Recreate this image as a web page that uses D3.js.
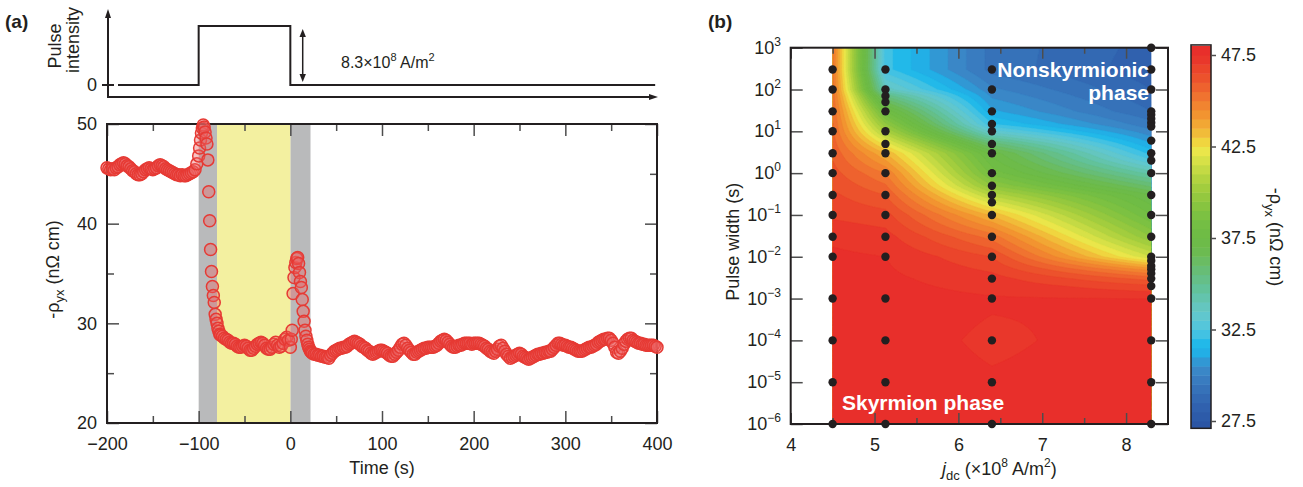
<!DOCTYPE html>
<html>
<head>
<meta charset="utf-8">
<script src="https://cdn.jsdelivr.net/npm/d3@7"></script>
<style>
  html, body { margin: 0; padding: 0; background: #fff; }
  svg { display: block; }
</style>
</head>
<body>
<svg id="fig" width="1303" height="487"></svg>
<script>
// ---------------- panel (a): pulse sequence and Hall resistivity ----------------
const timeTicks = [-200, -100, 0, 100, 200, 300, 400];
const timeMinorTicks = [-150, -50, 50, 150, 250, 350];
const rhoTicks = [20, 30, 40, 50];
const rhoMinorTicks = [25, 35, 45];

// current pulse (A/m^2, in units of 1e8)
const pulseTime  = [-188, -100, -100, 0, 0, 398];
const pulseLevel = [0, 0, 8.3, 8.3, 0, 0];
const pulseAmplitude = 8.3;
const arrowTime = 13.5;

// shaded time windows (s)
const grayWindows = [[-100, -80], [0, 22]];
const yellowWindow = [-80, 0];

// -rho_yx (nOhm cm) time trace, recorded in pieces
const rhoPre = [ // -200 .. -102 s, every 2 s
  45.6, 45.5, 45.4, 45.5, 45.4, 45.6, 45.7, 45.9, 46.0, 46.1,
  46.0, 45.8, 45.7, 45.5, 45.3, 45.2, 45.0, 44.9, 44.9, 45.0,
  45.2, 45.4, 45.5, 45.6, 45.5, 45.4, 45.5, 45.6, 45.8, 45.9,
  45.8, 45.7, 45.5, 45.4, 45.3, 45.2, 45.1, 45.0, 44.9, 44.9,
  44.8, 44.9, 44.8, 44.8, 44.9, 45.0, 45.1, 45.2, 45.4, 46.0];
const rhoStep1 = [ // -100 .. -77 s, every 1 s
  46.8, 47.6, 48.4, 49.1, 49.6, 49.9, 49.7, 49.2, 48.6, 48.0,
  46.4, 43.2, 40.3, 37.4, 35.2, 33.7, 32.8, 32.1, 30.9, 30.4,
  30.0, 29.5, 29.2, 28.9];
const rhoHeld = [ // -76 .. -2 s, every 2 s
  28.8, 28.7, 28.5, 28.4, 28.3, 28.1, 28.0, 28.0, 27.9, 27.7,
  27.6, 27.6, 27.7, 27.8, 27.7, 27.5, 27.3, 27.3, 27.5, 27.7,
  27.9, 28.0, 28.1, 28.0, 27.8, 27.5, 27.4, 27.4, 27.6, 27.9,
  28.1, 27.8, 27.6, 27.7, 28.0, 28.4, 28.6, 28.3];
const rhoStep2 = [ // 0 .. 23 s, every 1 s
  27.6, 28.4, 29.3, 33.0, 34.6, 35.6, 36.1, 36.5, 36.6, 36.0,
  35.1, 34.2, 33.6, 32.4, 31.2, 30.2, 29.3, 28.7, 28.3, 27.9,
  27.6, 27.4, 27.2, 27.1];
const rhoRelax = [ // 24 .. 400 s, every 2 s
  27.0, 26.9, 26.9, 26.8, 26.8, 26.7, 26.7, 26.6, 26.6, 26.5,
  26.8, 27.0, 27.2, 27.3, 27.4, 27.5, 27.5, 27.6, 27.6, 27.7,
  27.9, 28.0, 28.1, 28.2, 28.1, 28.0, 27.9, 27.7, 27.6, 27.5,
  27.3, 27.2, 27.0, 26.9, 27.0, 27.1, 27.2, 27.3, 27.3, 27.2,
  27.1, 27.0, 26.8, 26.7, 26.7, 26.9, 27.1, 27.3, 27.6, 27.9,
  28.0, 27.8, 27.5, 27.3, 27.1, 26.9, 26.9, 27.1, 27.2, 27.3,
  27.4, 27.5, 27.5, 27.6, 27.6, 27.6, 27.6, 27.7, 27.8, 28.0,
  28.2, 28.3, 28.4, 28.3, 28.1, 27.9, 27.7, 27.6, 27.6, 27.7,
  27.8, 27.8, 27.9, 28.0, 28.0, 28.0, 28.0, 27.9, 28.0, 28.0,
  28.0, 28.0, 27.9, 27.8, 27.7, 27.5, 27.4, 27.2, 27.1, 27.0,
  27.2, 27.4, 27.7, 27.8, 27.5, 27.2, 26.9, 26.7, 26.5, 26.6,
  26.7, 26.8, 26.9, 27.0, 26.9, 26.7, 26.6, 26.5, 26.4, 26.5,
  26.6, 26.7, 26.8, 26.9, 26.9, 27.0, 27.0, 27.1, 27.1, 27.2,
  27.2, 27.4, 27.6, 27.8, 28.0, 28.0, 27.9, 27.8, 27.8, 27.7,
  27.6, 27.6, 27.5, 27.4, 27.3, 27.2, 27.2, 27.2, 27.3, 27.4,
  27.5, 27.6, 27.6, 27.7, 27.8, 27.9, 28.1, 28.2, 28.3, 28.4,
  28.4, 28.5, 28.5, 28.3, 28.0, 27.6, 27.1, 27.0, 27.2, 27.5,
  27.9, 28.2, 28.4, 28.5, 28.5, 28.3, 28.2, 28.1, 28.0, 28.0,
  27.9, 27.9, 27.8, 27.8, 27.8, 27.8, 27.8, 27.7, 27.6];

// ---------------- panel (b): -rho_yx map vs current density and pulse width ----------------
const jdcTicks = [4, 5, 6, 7, 8];
const jdcMinorTicks = [4.5, 5.5, 6.5, 7.5];
const widthExponents = [3, 2, 1, 0, -1, -2, -3, -4, -5, -6];

const jdcColumns = [4.5, 5.13, 6.4, 8.3];
const widthsAt45 = [300, 100, 30, 10, 3, 1, 0.3, 0.1, 0.03, 0.01, 1e-3, 1e-4, 1e-5, 1e-6];
const rhoAt45    = [45.2, 45.3, 45.5, 45.6, 45.9, 46.2, 46.6, 46.9, 47.4, 47.6, 47.7, 47.6, 47.7, 47.8];
const widthsAt513 = [300, 100, 70, 50, 30, 10, 5, 3, 1, 0.3, 0.1, 0.03, 0.01, 1e-3, 1e-4, 1e-5, 1e-6];
const rhoAt513    = [32.2, 33.8, 35.4, 36.5, 38.0, 40.5, 42.3, 43.5, 45.0, 46.0, 46.7, 47.2, 47.5, 47.7, 47.7, 47.7, 47.8];
const widthsAt64 = [300, 100, 30, 15, 10, 5, 3, 1, 0.5, 0.3, 0.2, 0.1, 0.03, 0.01, 3e-3, 1e-3, 1e-4, 1e-5, 1e-6];
const rhoAt64    = [29.3, 30.1, 31.1, 32.0, 33.2, 35.8, 37.3, 38.3, 39.5, 40.8, 41.8, 43.4, 45.3, 46.5, 47.2, 47.55, 47.42, 47.55, 47.7];
const widthsAt83 = [1000, 300, 100, 30, 25, 20, 16, 13, 6, 3, 2, 1, 0.3, 0.1, 0.03, 0.01,
                    8e-3, 6e-3, 5e-3, 4e-3, 3e-3, 2e-3, 1e-3, 1e-4, 1e-5, 1e-6];
const rhoAt83    = [28.3, 28.2, 28.5, 29.0, 29.2, 29.4, 29.6, 29.8, 30.8, 31.8, 32.6, 34.3, 37.0, 38.0, 39.5, 41.5,
                    42.5, 43.6, 44.3, 45.0, 45.8, 46.6, 47.5, 47.7, 47.7, 47.8];

// colour scale
const cbarTicks = [27.5, 32.5, 37.5, 42.5, 47.5];
const cbarRange = [27.1, 48.05];
const contourStep = 0.5;
const cmapStops  = [27.0, 27.5, 28.5, 29.5, 30.5, 31.2, 31.7, 32.3, 33.0, 33.8, 34.7, 35.7, 36.7, 37.5,
                    38.5, 39.5, 40.5, 41.5, 42.3, 42.8, 43.5, 44.3, 45.2, 46.2, 47.0, 47.5, 48.1];
const cmapColors = ["#2a52a2", "#2c58a6", "#3164b0", "#3876bc", "#3a8cca", "#22aee6", "#1fb8ea", "#45c3e2",
                    "#5ec8d6", "#64c6be", "#62c29c", "#67bd78", "#6cbb52", "#6dbb45", "#76bf43", "#8dc63f",
                    "#a9cf3e", "#cdde46", "#ece74a", "#f0d33e", "#f2b036", "#f29230", "#f07530", "#ec532c",
                    "#ea3e2a", "#e8302b", "#e72e2a"];

// ---------------- drawing ----------------
const FONT = '"Liberation Sans", Arial, Helvetica, sans-serif';
const INK = '#231f20';
const TICK = '#4d4d4d';
const svg = d3.select('#fig').attr('font-family', FONT);

function styleAxis(g, size) {
  g.attr('font-family', FONT).attr('font-size', size);
  g.select('.domain').remove();
  g.selectAll('.tick line').attr('stroke', TICK).attr('stroke-width', 1.5);
  g.selectAll('.tick text').attr('fill', INK);
  return g;
}
const minusFmt = d => (d < 0 ? '\u2212' + Math.abs(d) : String(d));

// ===== panel (a) =====
const xT = d3.scaleLinear().domain([-200, 400]).range([107, 657]);
const yR = d3.scaleLinear().domain([20, 50]).range([423, 124]);
const yP = d3.scaleLinear().domain([0, pulseAmplitude]).range([85, 26]);

const gA = svg.append('g');

// pulse schematic axes with arrowheads
const axX0 = 108, axY0 = 97;
gA.append('line').attr('x1', axX0).attr('y1', axY0).attr('x2', axX0).attr('y2', 15)
  .attr('stroke', INK).attr('stroke-width', 2);
gA.append('path').attr('d', `M${axX0},9 L${axX0 - 3},18 L${axX0 + 3},18 Z`).attr('fill', INK);
gA.append('line').attr('x1', axX0 - 1).attr('y1', axY0).attr('x2', 651).attr('y2', axY0)
  .attr('stroke', INK).attr('stroke-width', 2);
gA.append('path').attr('d', `M658,${axY0} L649,${axY0 - 3} L649,${axY0 + 3} Z`).attr('fill', INK);
gA.append('line').attr('x1', axX0 - 6).attr('x2', axX0 + 6).attr('y1', yP(0)).attr('y2', yP(0))
  .attr('stroke', INK).attr('stroke-width', 2);
gA.append('text').attr('x', 97).attr('y', yP(0)).attr('dy', '0.35em').attr('text-anchor', 'end')
  .attr('font-size', 18).attr('fill', INK).text('0');

const pulseLine = d3.line().x((d, i) => xT(pulseTime[i])).y(d => yP(d));
gA.append('path').attr('d', pulseLine(pulseLevel)).attr('fill', 'none')
  .attr('stroke', INK).attr('stroke-width', 2);

// amplitude double arrow
const ax = xT(arrowTime), aTop = yP(pulseAmplitude) + 3, aBot = yP(0) - 3;
gA.append('line').attr('x1', ax).attr('x2', ax).attr('y1', aTop + 6).attr('y2', aBot - 6)
  .attr('stroke', INK).attr('stroke-width', 1.5);
gA.append('path').attr('d', `M${ax},${aTop} L${ax - 3.2},${aTop + 8} L${ax + 3.2},${aTop + 8} Z`).attr('fill', INK);
gA.append('path').attr('d', `M${ax},${aBot} L${ax - 3.2},${aBot - 8} L${ax + 3.2},${aBot - 8} Z`).attr('fill', INK);

const ampText = gA.append('text').attr('x', 341).attr('y', 68).attr('font-size', 16).attr('fill', INK);
ampText.append('tspan').text(pulseAmplitude + '\u00d710');
ampText.append('tspan').attr('dy', -7).attr('font-size', 11).text('8');
ampText.append('tspan').attr('dy', 7).text(' A/m');
ampText.append('tspan').attr('dy', -7).attr('font-size', 11).text('2');

gA.append('text').attr('transform', 'translate(55,46) rotate(-90)')
  .attr('text-anchor', 'middle').attr('dy', '0.35em').attr('font-size', 18).attr('fill', INK).text('Pulse');
gA.append('text').attr('transform', 'translate(73,40) rotate(-90)')
  .attr('text-anchor', 'middle').attr('dy', '0.35em').attr('font-size', 18).attr('fill', INK).text('intensity');

// shaded windows
gA.selectAll('rect.gray').data(grayWindows).join('rect').attr('class', 'gray')
  .attr('x', d => xT(d[0])).attr('width', d => xT(d[1]) - xT(d[0]))
  .attr('y', yR(50)).attr('height', yR(20) - yR(50)).attr('fill', '#b9babb');
gA.append('rect').attr('x', xT(yellowWindow[0])).attr('width', xT(yellowWindow[1]) - xT(yellowWindow[0]))
  .attr('y', yR(50)).attr('height', yR(20) - yR(50)).attr('fill', '#f3f0a0');

// axes with inward ticks
styleAxis(gA.append('g').attr('transform', `translate(0,${yR(20)})`)
  .call(d3.axisBottom(xT).tickValues(timeTicks).tickSize(-12).tickPadding(14).tickFormat(minusFmt)), 18);
styleAxis(gA.append('g').attr('transform', `translate(0,${yR(20)})`)
  .call(d3.axisBottom(xT).tickValues(timeMinorTicks).tickSize(-7).tickFormat('')), 18);
styleAxis(gA.append('g').attr('transform', `translate(0,${yR(50)})`)
  .call(d3.axisTop(xT).tickValues(timeTicks).tickSize(-12).tickFormat('')), 18);
styleAxis(gA.append('g').attr('transform', `translate(0,${yR(50)})`)
  .call(d3.axisTop(xT).tickValues(timeMinorTicks).tickSize(-7).tickFormat('')), 18);
styleAxis(gA.append('g').attr('transform', `translate(${xT(-200)},0)`)
  .call(d3.axisLeft(yR).tickValues(rhoTicks).tickSize(-12).tickPadding(10).tickFormat(d3.format('d'))), 18);
styleAxis(gA.append('g').attr('transform', `translate(${xT(-200)},0)`)
  .call(d3.axisLeft(yR).tickValues(rhoMinorTicks).tickSize(-7).tickFormat('')), 18);
styleAxis(gA.append('g').attr('transform', `translate(${xT(400)},0)`)
  .call(d3.axisRight(yR).tickValues(rhoTicks).tickSize(-12).tickFormat('')), 18);
styleAxis(gA.append('g').attr('transform', `translate(${xT(400)},0)`)
  .call(d3.axisRight(yR).tickValues(rhoMinorTicks).tickSize(-7).tickFormat('')), 18);

gA.append('rect').attr('x', xT(-200)).attr('y', yR(50)).attr('width', xT(400) - xT(-200))
  .attr('height', yR(20) - yR(50)).attr('fill', 'none').attr('stroke', INK).attr('stroke-width', 2);

// data points
function piece(start, step, vals) { return vals.map((v, i) => ({ t: start + i * step, v })); }
const trace = [].concat(
  piece(-200, 2, rhoPre), piece(-100, 1, rhoStep1), piece(-76, 2, rhoHeld),
  piece(0, 1, rhoStep2), piece(24, 2, rhoRelax));
gA.append('g').selectAll('circle').data(trace).join('circle')
  .attr('cx', d => xT(d.t)).attr('cy', d => yR(d.v)).attr('r', 6)
  .attr('fill', 'rgba(236,96,96,0.38)').attr('stroke', '#e63a34').attr('stroke-width', 1.5);

// labels
const yLabA = gA.append('text').attr('transform', `translate(53,${(yR(20) + yR(50)) / 2 - 4}) rotate(-90)`)
  .attr('text-anchor', 'middle').attr('dy', '0.35em').attr('font-size', 18).attr('fill', INK);
yLabA.append('tspan').text('-\u03c1');
yLabA.append('tspan').attr('dy', 5).attr('font-size', 13).text('yx');
yLabA.append('tspan').attr('dy', -5).text(' (n\u03a9 cm)');
gA.append('text').attr('x', (xT(-200) + xT(400)) / 2).attr('y', 474).attr('text-anchor', 'middle')
  .attr('font-size', 18).attr('fill', INK).text('Time (s)');
svg.append('text').attr('x', 5).attr('y', 28).attr('font-size', 19).attr('font-weight', 'bold')
  .attr('fill', INK).text('(a)');

// ===== panel (b) =====
const xJ = d3.scaleLinear().domain([4, 8.5]).range([790.7, 1168]);
const yW = d3.scaleLog().domain([1e-6, 1e3]).range([424, 47.7]);
const cmap = d3.scaleLinear().domain(cmapStops).range(cmapColors).interpolate(d3.interpolateRgb).clamp(true);
const levels = d3.range(27, 48, contourStep);
const bandColor = v => cmap(Math.min(v + contourStep / 2, 47.75));

const columns = [
  { j: jdcColumns[0], w: widthsAt45, r: rhoAt45 },
  { j: jdcColumns[1], w: widthsAt513, r: rhoAt513 },
  { j: jdcColumns[2], w: widthsAt64, r: rhoAt64 },
  { j: jdcColumns[3], w: widthsAt83, r: rhoAt83 }
].map(c => {
  const pts = c.w.map((w, i) => [Math.log10(w), c.r[i]]).sort((a, b) => a[0] - b[0]);
  return { j: c.j, pts, w: c.w };
});
function columnValue(col, lw) {
  const p = col.pts;
  if (lw <= p[0][0]) return p[0][1];
  if (lw >= p[p.length - 1][0]) return p[p.length - 1][1];
  let k = 1;
  while (p[k][0] < lw) k++;
  const f = (lw - p[k - 1][0]) / (p[k][0] - p[k - 1][0]);
  return p[k - 1][1] + f * (p[k][1] - p[k - 1][1]);
}
function fieldValue(j, lw) {
  let c = 0;
  while (c < columns.length - 2 && j > columns[c + 1].j) c++;
  const a = columns[c], b = columns[c + 1];
  const f = Math.max(0, Math.min(1, (j - a.j) / (b.j - a.j)));
  return columnValue(a, lw) * (1 - f) + columnValue(b, lw) * f;
}

const jMin = jdcColumns[0], jMax = jdcColumns[jdcColumns.length - 1];
const lwTop = 3, lwBot = -6;
const nx = 300, ny = 320;
const grid = new Float64Array(nx * ny);
for (let r = 0; r < ny; r++) {
  const lw = lwTop - (r + 0.5) / ny * (lwTop - lwBot);
  for (let i = 0; i < nx; i++) {
    const j = jMin + (i + 0.5) / nx * (jMax - jMin);
    grid[r * nx + i] = fieldValue(j, lw);
  }
}
const contourSets = d3.contours().size([nx, ny]).thresholds(levels)(grid);
const pyTop = yW(1e3), pyBot = yW(1e-6);
const proj = d3.geoTransform({
  point(x, y) {
    this.stream.point(xJ(jMin + x / nx * (jMax - jMin)), pyTop + y / ny * (pyBot - pyTop));
  }
});
const geo = d3.geoPath(proj);

const gB = svg.append('g');
gB.append('clipPath').attr('id', 'mapClip').append('rect')
  .attr('x', xJ(jMin)).attr('y', pyTop).attr('width', xJ(jMax) - xJ(jMin)).attr('height', pyBot - pyTop);
gB.append('g').attr('clip-path', 'url(#mapClip)')
  .selectAll('path').data(contourSets).join('path')
  .attr('d', geo).attr('fill', d => bandColor(d.value))
  .attr('stroke', d => bandColor(d.value)).attr('stroke-width', 0.4);

// axes
styleAxis(gB.append('g').attr('transform', `translate(0,${pyBot})`)
  .call(d3.axisBottom(xJ).tickValues(jdcTicks).tickSize(-11).tickPadding(14).tickFormat(d3.format('d'))), 18);
styleAxis(gB.append('g').attr('transform', `translate(0,${pyBot})`)
  .call(d3.axisBottom(xJ).tickValues(jdcMinorTicks).tickSize(-6).tickFormat('')), 18);
styleAxis(gB.append('g').attr('transform', `translate(0,${pyTop})`)
  .call(d3.axisTop(xJ).tickValues(jdcTicks).tickSize(-11).tickFormat('')), 18);
styleAxis(gB.append('g').attr('transform', `translate(0,${pyTop})`)
  .call(d3.axisTop(xJ).tickValues(jdcMinorTicks).tickSize(-6).tickFormat('')), 18);
const decades = widthExponents.map(e => Math.pow(10, e));
styleAxis(gB.append('g').attr('transform', `translate(${xJ(4)},0)`)
  .call(d3.axisLeft(yW).tickValues(decades).tickSize(-12).tickFormat('')), 18);
styleAxis(gB.append('g').attr('transform', `translate(${xJ(8.5)},0)`)
  .call(d3.axisRight(yW).tickValues(decades).tickSize(-12).tickFormat('')), 18);
gB.append('rect').attr('x', xJ(4)).attr('y', pyTop).attr('width', xJ(8.5) - xJ(4))
  .attr('height', pyBot - pyTop).attr('fill', 'none').attr('stroke', INK).attr('stroke-width', 2);

// y tick labels as powers of ten
gB.append('g').selectAll('text').data(widthExponents).join('text')
  .attr('x', 781).attr('y', e => yW(Math.pow(10, e)) + 6).attr('text-anchor', 'end')
  .attr('font-size', 18).attr('fill', INK)
  .each(function (e) {
    const t = d3.select(this);
    t.append('tspan').text('10');
    t.append('tspan').attr('dy', -8).attr('font-size', 12).text(minusFmt(e));
  });

// measurement points
const dots = columns.flatMap(c => c.w.map(w => ({ j: c.j, w })));
gB.append('g').selectAll('circle').data(dots).join('circle')
  .attr('cx', d => xJ(d.j)).attr('cy', d => yW(d.w)).attr('r', 4.2).attr('fill', INK);

// phase labels
const nsk = gB.append('text').attr('text-anchor', 'end').attr('font-size', 21)
  .attr('font-weight', 'bold').attr('fill', '#fff');
nsk.append('tspan').attr('x', 1149).attr('y', 77).text('Nonskyrmionic');
nsk.append('tspan').attr('x', 1149).attr('y', 100).text('phase');
gB.append('text').attr('x', 842).attr('y', 410).attr('font-size', 21).attr('font-weight', 'bold')
  .attr('fill', '#fff').text('Skyrmion phase');

// axis titles
gB.append('text').attr('transform', `translate(733,${(pyTop + pyBot) / 2 + 6}) rotate(-90)`)
  .attr('text-anchor', 'middle').attr('dy', '0.35em').attr('font-size', 18).attr('fill', INK)
  .text('Pulse width (s)');
const xLabB = gB.append('text').attr('x', 942).attr('y', 475).attr('font-size', 18).attr('fill', INK);
xLabB.append('tspan').attr('font-style', 'italic').text('j');
xLabB.append('tspan').attr('dy', 5).attr('font-size', 13).text('dc');
xLabB.append('tspan').attr('dy', -5).text(' (\u00d710');
xLabB.append('tspan').attr('dy', -8).attr('font-size', 12).text('8');
xLabB.append('tspan').attr('dy', 8).text(' A/m');
xLabB.append('tspan').attr('dy', -8).attr('font-size', 12).text('2');
xLabB.append('tspan').attr('dy', 8).text(')');
svg.append('text').attr('x', 708).attr('y', 28).attr('font-size', 19).attr('font-weight', 'bold')
  .attr('fill', INK).text('(b)');

// colour bar
const yC = d3.scaleLinear().domain([27.5, 47.5]).range([421, 55]);
const cbX = 1191, cbW = 20;
const gC = svg.append('g');
gC.selectAll('rect.band').data(levels).join('rect').attr('class', 'band')
  .attr('x', cbX).attr('width', cbW)
  .attr('y', v => yC(Math.min(v + contourStep, cbarRange[1])))
  .attr('height', v => Math.max(0, yC(Math.max(v, cbarRange[0])) - yC(Math.min(v + contourStep, cbarRange[1]))) + 0.5)
  .attr('fill', v => bandColor(v))
  .attr('display', v => (v + contourStep <= cbarRange[0] || v >= cbarRange[1]) ? 'none' : null);
gC.append('rect').attr('x', cbX).attr('y', yC(cbarRange[1])).attr('width', cbW)
  .attr('height', yC(cbarRange[0]) - yC(cbarRange[1])).attr('fill', 'none')
  .attr('stroke', INK).attr('stroke-width', 1.5);
styleAxis(gC.append('g').attr('transform', `translate(${cbX + cbW},0)`)
  .call(d3.axisRight(yC).tickValues(cbarTicks).tickSize(5).tickPadding(5).tickFormat(d3.format('.1f'))), 18);
const cLab = gC.append('text').attr('transform', 'translate(1276,237) rotate(90)')
  .attr('text-anchor', 'middle').attr('dy', '0.35em').attr('font-size', 18).attr('fill', INK);
cLab.append('tspan').text('-\u03c1');
cLab.append('tspan').attr('dy', 5).attr('font-size', 13).text('yx');
cLab.append('tspan').attr('dy', -5).text(' (n\u03a9 cm)');
</script>
</body>
</html>
